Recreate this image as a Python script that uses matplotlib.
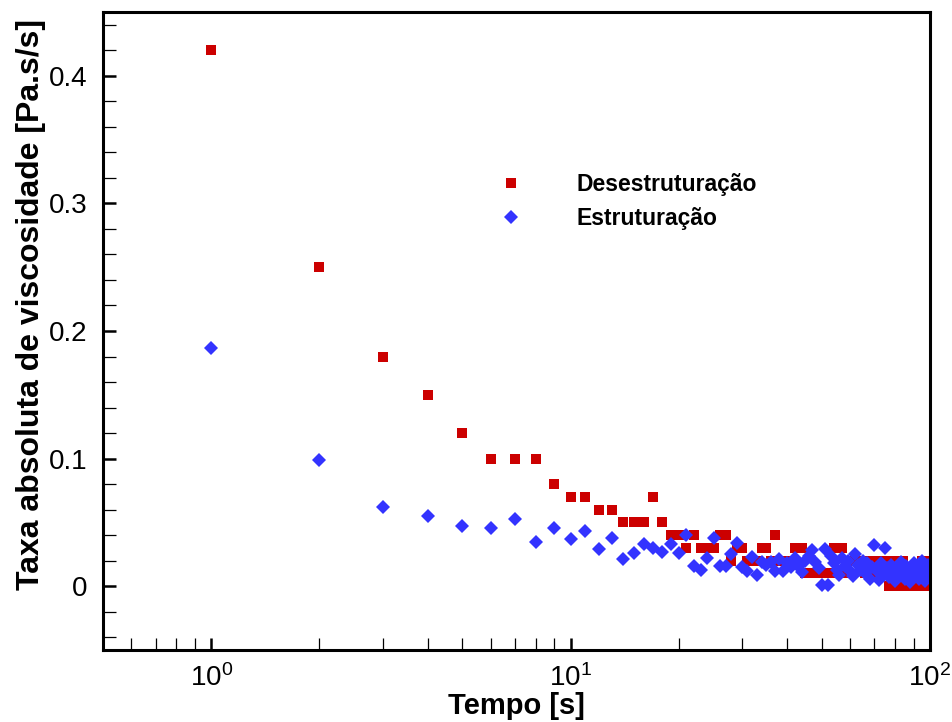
import matplotlib
matplotlib.use("Agg")
import matplotlib.pyplot as plt
import numpy as np
from matplotlib.ticker import MultipleLocator, LogLocator, NullFormatter

plt.rcParams['font.family'] = ['Liberation Sans', 'DejaVu Sans']
plt.rcParams['mathtext.fontset'] = 'custom'
plt.rcParams['mathtext.rm'] = 'Liberation Sans'
plt.rcParams['mathtext.it'] = 'Liberation Sans:italic'
plt.rcParams['mathtext.bf'] = 'Liberation Sans:bold'

tempo = list(range(1, 101))

desestruturacao = [
    0.42, 0.25, 0.18, 0.15, 0.12, 0.10, 0.10, 0.10, 0.08, 0.07,
    0.07, 0.06, 0.06, 0.05, 0.05, 0.05, 0.07, 0.05, 0.04, 0.04,
    0.03, 0.04, 0.03, 0.03, 0.03, 0.04, 0.04, 0.02, 0.03, 0.03,
    0.02, 0.02, 0.02, 0.03, 0.03, 0.02, 0.04, 0.02, 0.02, 0.02,
    0.02, 0.03, 0.03, 0.03, 0.01, 0.01, 0.01, 0.01, 0.01, 0.01,
    0.01, 0.01, 0.01, 0.03, 0.03, 0.01, 0.03, 0.01, 0.02, 0.02,
    0.02, 0.02, 0.02, 0.02, 0.02, 0.01, 0.02, 0.01, 0.02, 0.01,
    0.02, 0.02, 0.01, 0.01, 0.02, 0.01, 0.00, 0.02, 0.00, 0.02,
    0.00, 0.02, 0.01, 0.02, 0.00, 0.00, 0.00, 0.01, 0.00, 0.01,
    0.00, 0.01, 0.00, 0.01, 0.02, 0.00, 0.01, 0.02, 0.01, 0.02,
]

estruturacao = [
    0.187, 0.099, 0.062, 0.055, 0.047, 0.046, 0.053, 0.035, 0.046, 0.037,
    0.043, 0.029, 0.038, 0.021, 0.026, 0.033, 0.030, 0.027, 0.033, 0.026,
    0.040, 0.016, 0.013, 0.022, 0.038, 0.016, 0.016, 0.025, 0.034, 0.015,
    0.012, 0.023, 0.009, 0.019, 0.017, 0.019, 0.012, 0.021, 0.012, 0.018,
    0.015, 0.022, 0.016, 0.011, 0.020, 0.024, 0.028, 0.019, 0.014, 0.001,
    0.029, 0.001, 0.024, 0.018, 0.013, 0.009, 0.022, 0.016, 0.020, 0.012,
    0.008, 0.025, 0.017, 0.013, 0.020, 0.010, 0.018, 0.006, 0.015, 0.032,
    0.012, 0.005, 0.018, 0.009, 0.030, 0.014, 0.007, 0.017, 0.011, 0.004,
    0.015, 0.009, 0.019, 0.013, 0.006, 0.016, 0.010, 0.003, 0.014, 0.018,
    0.008, 0.012, 0.006, 0.015, 0.020, 0.010, 0.004, 0.013, 0.017, 0.009,
]

fig = plt.figure(figsize=(9.52, 7.22), dpi=100)
ax = fig.add_axes([103/952, 1 - 650/722, 827/952, 638/722])

ax.plot(tempo, desestruturacao, linestyle='none', marker='s', markersize=7.8,
        color='#CC0000', markeredgewidth=0, label='Desestruturação')
ax.plot(tempo, estruturacao, linestyle='none', marker='D', markersize=7.2,
        color='#3333FF', markeredgewidth=0, label='Estruturação')

ax.set_xscale('log')
ax.set_xlim(0.5, 100)
ax.set_ylim(-0.05, 0.45)
ax.yaxis.set_minor_locator(MultipleLocator(0.02))
ax.set_yticks([0, 0.1, 0.2, 0.3, 0.4])
ax.set_yticklabels(['0', '0.1', '0.2', '0.3', '0.4'])
ax.xaxis.set_major_locator(LogLocator(base=10, numticks=10))
ax.xaxis.set_minor_locator(LogLocator(base=10, subs=np.arange(2, 10), numticks=20))
ax.xaxis.set_minor_formatter(NullFormatter())

for s in ax.spines.values():
    s.set_linewidth(2.2)
ax.tick_params(which='both', direction='in', top=False, right=False)
ax.tick_params(which='major', length=9, width=1.8, labelsize=20)
ax.tick_params(axis='y', which='major', pad=11)
ax.tick_params(axis='x', which='major', pad=10)
ax.tick_params(which='minor', length=9, width=0.9)

ax.set_xlabel('Tempo [s]', fontsize=21, fontweight='bold', labelpad=0)
ax.set_ylabel('Taxa absoluta de viscosidade [Pa.s/s]', fontsize=23,
              fontweight='bold')
ax.yaxis.set_label_coords(-0.069, 0.541)

leg = ax.legend(loc='upper left', bbox_to_anchor=(0.454, 0.780), frameon=False,
                handlelength=1.0, handletextpad=2.4,
                labelspacing=0.5, prop={'weight': 'bold', 'size': 16.5})

fig.savefig('out.png', dpi=100)
